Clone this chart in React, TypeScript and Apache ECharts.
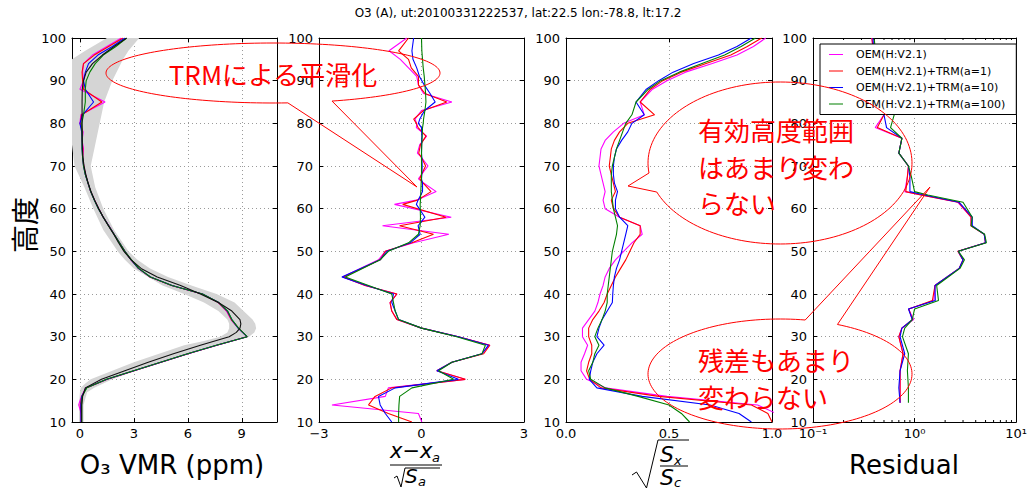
import React, { useEffect, useRef } from "react";
import * as echarts from "echarts";

const FONT = "DejaVu Sans";
const JP = "Noto Sans CJK JP";

const TITLE = "O3 (A), ut:20100331222537, lat:22.5 lon:-78.8, lt:17.2";
const SERIES_NAMES = [
  "OEM(H:V2.1)",
  "OEM(H:V2.1)+TRM(a=1)",
  "OEM(H:V2.1)+TRM(a=10)",
  "OEM(H:V2.1)+TRM(a=100)",
];
const COLORS = ["#ff00ff", "#ff0000", "#0000ff", "#008000"];

// ---------- Panel 1 : O3 VMR (ppm) ----------
const alt1 = [10, 12, 14, 16, 18, 20, 22, 24, 26, 28, 30, 32, 34, 36, 38, 40, 42, 44, 46, 48, 50, 52, 54, 56, 58, 60, 62, 64, 66, 68, 70, 72, 74, 76, 78, 80, 82, 85, 88, 90, 92, 94, 96, 98, 100];
const vmrM = [0.08, 0.07, -0.07, 0.08, 0.33, 1.5, 3.0, 4.5, 6.0, 7.6, 9.28, 8.8, 8.4, 8.15, 7.7, 6.8, 5.1, 3.9, 3.25, 2.85, 2.5, 2.2, 1.9, 1.62, 1.3, 1.05, 0.82, 0.6, 0.45, 0.32, 0.22, 0.15, 0.2, 0.12, 0.18, 0.0, 0.05, 1.4, 0.0, 0.2, 0.15, 0.2, 0.7, 1.5, 2.3];
const vmrR = [0.07, 0.06, 0.02, 0.1, 0.35, 1.52, 3.02, 4.52, 6.02, 7.62, 9.3, 8.82, 8.42, 8.18, 7.7, 6.8, 5.1, 3.9, 3.25, 2.85, 2.5, 2.2, 1.9, 1.6, 1.3, 1.04, 0.81, 0.6, 0.45, 0.31, 0.21, 0.15, 0.16, 0.12, 0.14, 0.02, 0.1, 1.22, 0.2, 0.15, 0.12, 0.2, 0.8, 1.6, 2.4];
const vmrB = [0.06, 0.06, 0.05, 0.1, 0.36, 1.5, 3.0, 4.5, 6.0, 7.6, 9.3, 8.8, 8.45, 8.2, 7.72, 6.82, 5.12, 3.92, 3.25, 2.85, 2.5, 2.2, 1.9, 1.6, 1.3, 1.03, 0.8, 0.6, 0.45, 0.3, 0.2, 0.15, 0.12, 0.12, 0.1, 0.0, 0.15, 0.76, 0.3, 0.2, 0.3, 0.48, 1.0, 1.8, 2.5];
const vmrG = [0.1, 0.1, 0.1, 0.12, 0.38, 1.48, 2.98, 4.48, 5.98, 7.58, 9.3, 8.82, 8.45, 8.22, 7.72, 6.82, 5.12, 3.92, 3.27, 2.87, 2.5, 2.2, 1.9, 1.6, 1.3, 1.03, 0.8, 0.6, 0.45, 0.3, 0.2, 0.15, 0.12, 0.12, 0.12, 0.1, 0.2, 0.3, 0.3, 0.35, 0.55, 0.85, 1.3, 2.0, 2.6];

const altA = [10, 12, 14, 16, 18, 20, 22, 24, 26, 28, 30, 31, 32, 33, 34, 36, 38, 40, 42, 44, 46, 48, 50, 52, 54, 56, 58, 60, 62, 64, 66, 68, 70, 72, 74, 76, 78, 80, 82, 85, 88, 90, 92, 94, 96, 98, 100];
const apriori = [0.1, 0.1, 0.1, 0.15, 0.3, 1.2, 2.5, 3.8, 5.2, 6.7, 8.3, 8.7, 8.9, 8.95, 8.9, 8.45, 7.7, 6.7, 5.6, 4.3, 3.4, 2.85, 2.45, 2.15, 1.88, 1.58, 1.3, 1.05, 0.82, 0.62, 0.46, 0.33, 0.23, 0.17, 0.14, 0.13, 0.12, 0.12, 0.12, 0.12, 0.13, 0.2, 0.35, 0.7, 1.25, 1.9, 2.6];

const bandAlt = [10, 14, 17, 18, 19, 20, 22, 24, 26, 28, 29, 30, 31, 32, 33, 34, 36, 38, 40, 42, 44, 46, 48, 50, 55, 60, 65, 70, 75, 80, 85, 90, 95, 97, 100];
const bandLo = [-0.05, -0.05, 0.0, 0.05, 0.3, 0.6, 1.8, 3.0, 4.4, 5.8, 6.9, 7.8, 8.2, 8.3, 8.3, 8.2, 7.7, 6.9, 5.8, 4.6, 3.8, 3.0, 2.5, 2.1, 1.3, 0.75, 0.25, -0.3, -0.44, -0.44, -0.44, -0.44, -0.44, 0.3, 1.5];
const bandHi = [0.2, 0.2, 0.4, 0.8, 1.3, 1.8, 3.1, 4.4, 5.9, 7.5, 8.4, 9.4, 9.7, 9.8, 9.75, 9.6, 9.1, 8.6, 7.6, 6.2, 4.9, 3.9, 3.2, 2.7, 1.9, 1.3, 0.85, 0.6, 0.85, 1.1, 1.35, 1.8, 2.4, 2.7, 3.3];

// ---------- Panel 2 : (x - xa)/sqrt(Sa) ----------
const alt2 = [10, 12, 14, 16, 18, 20, 22, 24, 26, 28, 30, 32, 34, 36, 38, 40, 42, 44, 48, 50, 52, 54, 56, 58, 61, 62, 64, 66, 67, 68, 70, 72, 73, 75, 77, 79, 80, 81, 83, 85, 87, 89, 91, 93, 95, 97, 100];
const devM = [0.01, -0.09, -2.62, -1.06, -0.97, 1.28, 0.45, 0.89, 1.77, 2.0, 1.08, 0.0, -0.72, -0.87, -0.92, -0.72, -1.65, -2.31, -1.26, -1.06, -0.23, 0.8, -1.14, 0.87, -0.79, -0.15, 0.43, 0.06, -0.09, 0.0, 0.19, 0.0, -0.12, -0.05, 0.15, -0.15, -0.14, -0.19, 0.0, 0.89, 0.06, -0.09, -0.14, -0.38, -0.62, -0.95, -0.43];
const devR = [-0.28, -0.97, -1.55, -1.36, -0.87, 1.28, 0.45, 0.89, 1.82, 2.0, 1.08, 0.0, -0.72, -0.87, -0.92, -0.72, -1.65, -2.28, -1.21, -1.06, -0.28, 0.35, -0.64, 0.72, -0.55, -0.12, 0.28, 0.05, -0.05, 0.0, 0.12, 0.0, -0.08, -0.03, 0.13, -0.1, -0.15, -0.23, 0.06, 0.74, 0.1, -0.09, -0.09, -0.3, -0.38, -0.67, -0.38];
const devB = [-0.87, -1.06, -1.21, -1.26, -0.77, 1.08, 0.45, 0.89, 1.77, 1.96, 1.08, 0.0, -0.67, -0.77, -0.87, -0.82, -1.6, -2.33, -1.21, -1.01, -0.33, -0.04, -0.1, 0.1, -0.15, -0.1, 0.03, 0.03, 0.0, 0.01, 0.02, 0.01, 0.0, 0.0, 0.01, 0.0, -0.09, -0.05, 0.09, 0.4, 0.25, 0.08, -0.06, -0.14, -0.25, -0.28, -0.23];
const devG = [-0.67, -0.67, -0.66, -0.64, -0.28, 0.94, 0.5, 0.89, 1.77, 1.87, 1.03, 0.0, -0.67, -0.77, -0.82, -0.87, -1.55, -2.23, -1.21, -0.97, -0.38, -0.09, -0.04, -0.03, -0.04, -0.03, -0.02, -0.01, 0.0, 0.0, 0.0, 0.0, 0.0, 0.01, 0.02, 0.03, 0.05, 0.06, 0.1, 0.13, 0.12, 0.1, 0.08, 0.05, 0.03, 0.01, 0.0];

// ---------- Panel 3 : sqrt(Sx/Sc) ----------
const alt3 = [10, 12, 14, 16, 18, 20, 22, 24, 26, 28, 30, 32, 34, 36, 38, 40, 42, 44, 46, 48, 50, 52, 54, 56, 58, 60, 62, 64, 66, 68, 70, 72, 74, 76, 78, 80, 82, 85, 88, 90, 92, 94, 96, 98, 100];
const errM = [1.1, 1.02, 0.93, 0.49, 0.19, 0.1, 0.073, 0.073, 0.09, 0.105, 0.08, 0.08, 0.11, 0.14, 0.155, 0.165, 0.18, 0.19, 0.21, 0.24, 0.28, 0.32, 0.37, 0.36, 0.26, 0.19, 0.18, 0.19, 0.18, 0.17, 0.16, 0.165, 0.17, 0.19, 0.23, 0.28, 0.38, 0.36, 0.42, 0.49, 0.58, 0.71, 0.83, 0.91, 0.97];
const errR = [1.0, 0.98, 0.9, 0.45, 0.17, 0.115, 0.1, 0.11, 0.125, 0.125, 0.11, 0.11, 0.13, 0.16, 0.185, 0.2, 0.22, 0.24, 0.265, 0.29, 0.31, 0.33, 0.36, 0.36, 0.26, 0.23, 0.22, 0.24, 0.23, 0.22, 0.21, 0.215, 0.22, 0.235, 0.26, 0.3, 0.43, 0.36, 0.41, 0.47, 0.56, 0.68, 0.8, 0.88, 0.95];
const errB = [0.9, 0.84, 0.7, 0.37, 0.15, 0.113, 0.12, 0.13, 0.15, 0.185, 0.15, 0.16, 0.175, 0.2, 0.225, 0.227, 0.23, 0.235, 0.245, 0.26, 0.27, 0.28, 0.29, 0.3, 0.26, 0.24, 0.24, 0.25, 0.235, 0.23, 0.23, 0.235, 0.245, 0.27, 0.3, 0.32, 0.38, 0.34, 0.39, 0.45, 0.52, 0.62, 0.74, 0.83, 0.9];
const errG = [0.6, 0.56, 0.5, 0.35, 0.19, 0.12, 0.11, 0.13, 0.14, 0.16, 0.14, 0.155, 0.175, 0.19, 0.2, 0.2, 0.205, 0.21, 0.215, 0.22, 0.225, 0.235, 0.245, 0.25, 0.24, 0.23, 0.225, 0.22, 0.22, 0.22, 0.225, 0.235, 0.245, 0.26, 0.275, 0.29, 0.32, 0.34, 0.4, 0.46, 0.55, 0.66, 0.77, 0.85, 0.92];

// ---------- Panel 4 : Residual ----------
const alt4 = [14.5, 18, 22, 26, 30, 32, 34, 36.5, 38.5, 42, 46, 48, 50, 52, 54, 56, 58, 61.5, 63.2, 64, 67.5, 70, 73, 76.5, 79, 82, 86, 90, 95, 100];
const resM = [0.72, 0.72, 0.72, 0.77, 0.7, 0.75, 0.98, 0.87, 1.55, 1.59, 2.75, 3.0, 2.67, 5.0, 4.85, 3.6, 3.6, 2.67, 1.18, 0.8, 0.85, 0.87, 0.7, 0.75, 0.41, 0.5, 0.45, 0.42, 0.4, 0.38];
const resR = [0.72, 0.72, 0.72, 0.77, 0.7, 0.75, 0.95, 0.88, 1.5, 1.59, 2.75, 3.0, 2.67, 5.0, 4.85, 3.6, 3.6, 2.7, 1.15, 0.82, 0.85, 0.87, 0.7, 0.75, 0.43, 0.5, 0.45, 0.42, 0.4, 0.38];
const resB = [0.72, 0.7, 0.72, 0.8, 0.72, 0.75, 0.95, 0.87, 1.6, 1.59, 2.75, 3.0, 2.7, 5.0, 4.85, 3.7, 3.7, 2.75, 1.25, 0.9, 0.9, 0.87, 0.7, 0.75, 0.53, 0.5, 0.47, 0.43, 0.4, 0.39];
const resG = [0.87, 0.87, 0.85, 0.87, 0.76, 0.8, 0.95, 1.0, 1.72, 1.65, 2.8, 3.1, 2.7, 5.1, 4.9, 3.6, 3.7, 3.0, 1.35, 1.0, 0.93, 0.87, 0.7, 0.75, 0.58, 0.63, 0.55, 0.48, 0.42, 0.4];

const VMR_TICKS = [0, 3, 6, 9];
const LOG_MINOR = [0.2, 0.3, 0.4, 0.5, 0.6, 0.7, 0.8, 0.9, 2, 3, 4, 5, 6, 7, 8, 9];

const pairs = (xs: number[], ys: number[]) => xs.map((x, i) => [x, ys[i]]);

const GRIDS = [
  { left: 72, top: 38, width: 205, height: 384 },
  { left: 319, top: 38, width: 205, height: 384 },
  { left: 566, top: 38, width: 206, height: 384 },
  { left: 813, top: 38, width: 206, height: 384 },
];

const frameLine = { show: true, onZero: false, lineStyle: { color: "#000", width: 1 } };
const tickIn = { show: true, inside: true, length: 4, lineStyle: { color: "#000", width: 1 } };
const gridLine = { show: true, lineStyle: { color: "#9a9a9a", type: [1, 3], width: 1 } };
const lbl = { color: "#000", fontSize: 13, fontFamily: FONT };

const supMap: Record<number, string> = { [-1]: "10\u207B\u00B9", 0: "10\u2070", 1: "10\u00B9" };

// legend icon: a thin horizontal bar centred in a 14x13 box
const LEGEND_ICON = "path://M0,0L0.01,0L0,0.01Z M0,5.9L14,5.9L14,7.1L0,7.1Z M14,13L13.99,13L14,12.99Z";

function xAxesFor(p: number): any[] {
  let base: any;
  if (p === 0) {
    base = { type: "value", min: -0.44, max: 10.96 };
  } else if (p === 1) {
    base = { type: "value", min: -3, max: 3, interval: 3 };
  } else if (p === 2) {
    base = { type: "value", min: 0, max: 1, interval: 0.5 };
  } else {
    base = { type: "log", logBase: 10, min: 0.1, max: 10 };
  }
  const fmt =
    p === 1
      ? (v: number) => (v < 0 ? "\u2212" + Math.abs(v) : String(v))
      : p === 2
      ? (v: number) => v.toFixed(1)
      : p === 3
      ? (v: number) => supMap[Math.round(Math.log10(v))] ?? String(v)
      : (v: number) => String(v);
  const tick: any = { ...tickIn };
  const label: any = { ...lbl, margin: 5, formatter: fmt };
  if (p === 0) {
    tick.customValues = VMR_TICKS;
    label.customValues = VMR_TICKS;
  }
  return [
    { ...base, gridIndex: p, position: "bottom", axisLine: frameLine, axisTick: tick, axisLabel: label, splitLine: gridLine },
    { ...base, gridIndex: p, position: "top", axisLine: frameLine, axisTick: tick, axisLabel: { show: false }, splitLine: { show: false } },
  ];
}

function yAxesFor(p: number): any[] {
  const base = { type: "value", min: 10, max: 100, interval: 10, gridIndex: p };
  return [
    { ...base, position: "left", axisLine: frameLine, axisTick: tickIn, axisLabel: { ...lbl, margin: 6 }, splitLine: gridLine },
    { ...base, position: "right", axisLine: frameLine, axisTick: tickIn, axisLabel: { show: false }, splitLine: { show: false } },
  ];
}

function lineSeries(name: string, color: string, xs: number[], ys: number[], p: number, z = 3): any {
  return {
    type: "line",
    name,
    xAxisIndex: 2 * p,
    yAxisIndex: 2 * p,
    data: pairs(xs, ys),
    showSymbol: false,
    symbol: "none",
    lineStyle: { color, width: 1.1 },
    itemStyle: { color },
    z,
    silent: true,
  };
}

function bubble(cx: number, cy: number, rx: number, ry: number, a1: number, a2: number, tip: number[]) {
  const pts: number[][] = [];
  const n = 160;
  for (let k = 0; k <= n; k++) {
    const t = ((a1 + ((a2 - a1) * k) / n) * Math.PI) / 180;
    pts.push([cx + rx * Math.cos(t), cy + ry * Math.sin(t)]);
  }
  pts.push(tip);
  pts.push(pts[0]);
  return pts;
}

const txt = (x: number, y: number, text: string, opts: any = {}) => ({
  type: "text",
  x,
  y,
  z: 100,
  rotation: opts.rotation || 0,
  style: {
    text,
    fill: opts.fill || "#000",
    fontSize: opts.fontSize || 13,
    fontFamily: opts.fontFamily || FONT,
    fontStyle: opts.fontStyle || "normal",
    align: opts.align || "left",
    verticalAlign: "middle",
  },
});

const pl = (points: number[][], stroke = "#000", lineWidth = 1) => ({
  type: "polyline",
  z: 100,
  shape: { points },
  style: { stroke, lineWidth, fill: "none" },
});

export default function App() {
  const ref = useRef<HTMLDivElement>(null);
  useEffect(() => {
    const chart = echarts.init(ref.current!, null, { renderer: "svg" });
    const series: any[] = [];

    series.push({
      type: "custom",
      xAxisIndex: 0,
      yAxisIndex: 0,
      silent: true,
      z: 1,
      data: [[0, 50]],
      renderItem: (_params: any, api: any) => {
        const pts: number[][] = [];
        for (let i = 0; i < bandAlt.length; i++) pts.push(api.coord([bandLo[i], bandAlt[i]]));
        for (let i = bandAlt.length - 1; i >= 0; i--) pts.push(api.coord([bandHi[i], bandAlt[i]]));
        return { type: "polygon", shape: { points: pts }, style: { fill: "#d5d5d5", stroke: "none" } };
      },
    });

    const panels = [
      [vmrM, vmrR, vmrB, vmrG, alt1],
      [devM, devR, devB, devG, alt2],
      [errM, errR, errB, errG, alt3],
      [resM, resR, resB, resG, alt4],
    ] as number[][][];
    panels.forEach((pd, p) => {
      for (let s = 0; s < 4; s++) series.push(lineSeries(SERIES_NAMES[s], COLORS[s], pd[s], pd[4], p, 3 + s));
    });
    series.push(lineSeries("a priori", "#111", apriori, altA, 0, 8));

    // minor ticks on the log axis (bottom and top)
    series.push({
      type: "custom",
      xAxisIndex: 6,
      yAxisIndex: 6,
      silent: true,
      z: 9,
      data: [[1, 50]],
      renderItem: (_params: any, api: any) => {
        const children: any[] = [];
        LOG_MINOR.forEach((v) => {
          const b = api.coord([v, 10]);
          const t = api.coord([v, 100]);
          children.push({ type: "line", shape: { x1: b[0], y1: b[1], x2: b[0], y2: b[1] - 2 }, style: { stroke: "#000", lineWidth: 1 } });
          children.push({ type: "line", shape: { x1: t[0], y1: t[1], x2: t[0], y2: t[1] + 2 }, style: { stroke: "#000", lineWidth: 1 } });
        });
        return { type: "group", children };
      },
    });

    const xAxis: any[] = [];
    const yAxis: any[] = [];
    for (let p = 0; p < 4; p++) {
      xAxis.push(...xAxesFor(p));
      yAxis.push(...yAxesFor(p));
    }

    const RED = "#ff0000";
    const graphic: any[] = [
      txt(518, 13, TITLE, { fontSize: 12, align: "center" }),
      txt(24, 225, "高度", { fontSize: 28, fontFamily: JP, align: "center", rotation: Math.PI / 2 }),
      txt(172, 465, "O\u2083 VMR (ppm)", { fontSize: 26, align: "center" }),
      txt(904, 465, "Residual", { fontSize: 26, align: "center" }),
      // panel 2 label
      txt(390, 451, "x\u2212x", { fontSize: 21, fontStyle: "italic" }),
      txt(432, 457, "a", { fontSize: 13, fontStyle: "italic" }),
      pl([[390, 465], [442, 465]]),
      pl([[394, 478], [397, 476], [401, 487], [405, 468], [440, 468]]),
      txt(405, 476, "S", { fontSize: 20, fontStyle: "italic" }),
      txt(418, 481, "a", { fontSize: 13, fontStyle: "italic" }),
      // panel 3 label
      pl([[632, 475], [636.5, 472], [646.5, 488], [658, 440], [689, 440]]),
      txt(660, 454, "S", { fontSize: 22, fontStyle: "italic" }),
      txt(674, 460, "x", { fontSize: 13, fontStyle: "italic" }),
      pl([[660, 466], [688, 466]]),
      txt(660, 477, "S", { fontSize: 22, fontStyle: "italic" }),
      txt(674, 482, "c", { fontSize: 13, fontStyle: "italic" }),
      // annotations
      pl(bubble(273, 73, 167, 30, 84.9, 429.3, [417, 187]), RED),
      txt(273, 73, "TRMによる平滑化", { fontSize: 26, fontFamily: JP, fill: RED, align: "center" }),
      pl(bubble(780, 163, 132, 81, 172.9, 519, [628, 186]), RED),
      txt(698, 129, "有効高度範囲", { fontSize: 26, fontFamily: JP, fill: RED }),
      txt(698, 166, "はあまり変わ", { fontSize: 26, fontFamily: JP, fill: RED }),
      txt(698, 202, "らない", { fontSize: 26, fontFamily: JP, fill: RED }),
      pl(bubble(780, 374, 132, 55, 295.8, 641, [930, 187]), RED),
      txt(698, 359, "残差もあまり", { fontSize: 26, fontFamily: JP, fill: RED }),
      txt(698, 396, "変わらない", { fontSize: 26, fontFamily: JP, fill: RED }),
    ];

    chart.setOption({
      animation: false,
      backgroundColor: "#fff",
      grid: GRIDS,
      xAxis,
      yAxis,
      legend: {
        data: SERIES_NAMES.map((n) => ({ name: n, icon: LEGEND_ICON })),
        left: 820,
        top: 44,
        orient: "vertical",
        backgroundColor: "#fff",
        borderColor: "#000",
        borderWidth: 1,
        borderRadius: 0,
        padding: [4, 11, 4, 9],
        itemGap: 3.5,
        itemWidth: 14,
        itemHeight: 13,
        selectedMode: false,
        z: 20,
        textStyle: { fontSize: 11, fontFamily: FONT, color: "#000", padding: [0, 0, 0, 8] },
      },
      series,
      graphic,
    });
    return () => chart.dispose();
  }, []);
  return <div ref={ref} style={{ position: "fixed", left: 0, top: 0, width: 1030, height: 490 }} />;
}
